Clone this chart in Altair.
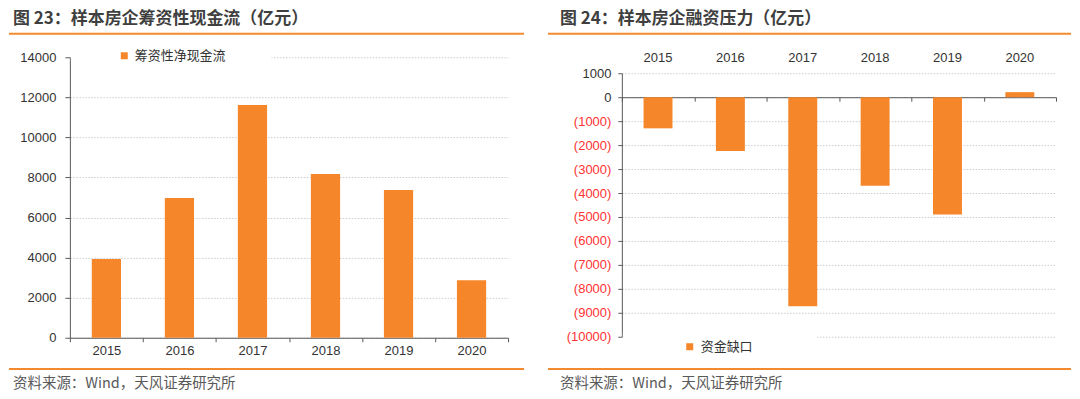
import altair as alt
import pandas as pd

# ---------------- data ----------------
years = ["2015", "2016", "2017", "2018", "2019", "2020"]
financing_cf = [3930, 6970, 11620, 8170, 7370, 2870]      # 筹资性净现金流
funding_gap = [-1300, -2250, -8730, -3700, -4900, 210]    # 资金缺口

left_ticks = [0, 2000, 4000, 6000, 8000, 10000, 12000, 14000]
right_ticks = [1000, 0, -1000, -2000, -3000, -4000, -5000, -6000, -7000, -8000, -9000, -10000]

title_left = "图 23：样本房企筹资性现金流（亿元）"
title_right = "图 24：样本房企融资压力（亿元）"
legend_left = "筹资性净现金流"
legend_right = "资金缺口"
source_text = "资料来源：Wind，天风证券研究所"

# ---------------- style ----------------
ORANGE = "#F5862A"
LINE = "#F28A30"
CJK = "Noto Sans CJK SC"
LAT = "Liberation Sans"
AX = "#595959"
LAB = "#333333"
GRID = "#cccccc"

W1, H1 = 439, 281
W2, H2 = 435, 280
TOP2 = 16  # right plot's value area starts 16px below the shared top

df1 = pd.DataFrame({"year": years, "v": financing_cf})
df2 = pd.DataFrame({"year": years, "v": funding_gap})


def one(**kw):
    return pd.DataFrame({k: [v] for k, v in kw.items()})


def text_layer(txt, x, y, size, color, weight="normal", font=CJK):
    return alt.Chart(one(t=txt)).mark_text(
        align="left", baseline="middle", fontSize=size, color=color,
        font=font, fontWeight=weight
    ).encode(x=alt.value(x), y=alt.value(y), text="t:N")


def hline(x1, x2, y):
    return alt.Chart(one(k=0)).mark_rule(color=LINE, strokeWidth=2).encode(
        x=alt.value(x1), x2=alt.value(x2), y=alt.value(y))


def white_box(x1, x2, y1, y2):
    return alt.Chart(one(k=0)).mark_rect(color="white").encode(
        x=alt.value(x1), x2=alt.value(x2), y=alt.value(y1), y2=alt.value(y2))


def anchor(x1, y1, x2, y2):
    return alt.Chart(one(k=0)).mark_rule(opacity=0, strokeWidth=1).encode(
        x=alt.value(x1), y=alt.value(y1), x2=alt.value(x2), y2=alt.value(y2))


def legend_sq(x, y):
    return alt.Chart(one(k=0)).mark_square(size=49, color=ORANGE, opacity=1).encode(
        x=alt.value(x), y=alt.value(y))


xscale = alt.Scale(paddingInner=0, paddingOuter=0)

# ---------------- left panel ----------------
bars1 = alt.Chart(df1).mark_bar(color=ORANGE, width={"band": 0.4}).encode(
    x=alt.X("year:N", sort=years, scale=xscale, axis=alt.Axis(
        title=None, labelAngle=0, tickBand="extent", tickSize=4,
        domainColor=AX, tickColor=AX, labelFont=LAT, labelFontSize=13,
        labelColor=LAB, labelPadding=3, grid=False)),
    y=alt.Y("v:Q", scale=alt.Scale(domain=[0, 14000], nice=False), axis=alt.Axis(
        title=None, values=left_ticks, format="d", tickSize=5, labelOverlap=False,
        domainColor=AX, tickColor=AX, labelFont=LAT, labelFontSize=13,
        labelColor=LAB, labelPadding=9, grid=True, gridColor=GRID,
        gridDash=[1.5, 1.5], gridWidth=1)),
)

left = alt.layer(
    anchor(-61, -49, 469, 338),
    bars1,
    white_box(1, 202, -7, 5),
    legend_sq(54.5, -1.5),
    text_layer(legend_left, 65, -1.5, 13, LAB),
    text_layer(title_left, -57, -38.5, 17, "#3f3f3f", weight="bold"),
    hline(-61, 455, -23.5),
    hline(-61, 455, 312.3),
    text_layer(source_text, -57, 327, 14.5, "#595959"),
).properties(width=W1, height=H1)

# ---------------- right panel ----------------
zero_y = TOP2 + (H2 - TOP2) * 1000 / 11000
zero_offset = -(H2 - zero_y)

ylab_expr = ("datum.value < 0 ? '(' + format(-datum.value, 'd') + ')' : "
             "format(datum.value, 'd') + '\u00a0'")

yscale2 = alt.Scale(domain=[-10000, 1000], nice=False, range=[H2, TOP2])


def yaxis2():
    return alt.Axis(
        title=None, values=right_ticks, labelExpr=ylab_expr, labelOverlap=False,
        labelColor={"expr": "datum.value < 0 ? '#FF3333' : '#333333'"},
        tickSize=4, domainColor=AX, tickColor=AX, labelFont=LAT,
        labelFontSize=13, labelPadding=7, grid=True, gridColor=GRID,
        gridDash=[1.5, 1.5], gridWidth=1)


bars2 = alt.Chart(df2).mark_bar(color=ORANGE, width={"band": 0.4}).encode(
    x=alt.X("year:N", sort=years, scale=xscale, axis=alt.Axis(
        title=None, orient="top", offset=-TOP2, labelAngle=0, ticks=False,
        tickSize=0, domain=False, labelFont=LAT, labelFontSize=13,
        labelColor=LAB, labelPadding=9, grid=False)),
    y=alt.Y("v:Q", scale=yscale2, axis=yaxis2()),
)

zero_axis = alt.Chart(df2).mark_bar(opacity=0, width={"band": 0.4}).encode(
    x=alt.X("year:N", sort=years, scale=xscale, axis=alt.Axis(
        title=None, orient="bottom", offset=zero_offset, labels=False,
        tickBand="extent", tickSize=4, domainColor=AX, tickColor=AX,
        grid=False)),
    y=alt.Y("v:Q", scale=yscale2, axis=yaxis2()),
)

right = alt.layer(
    anchor(-84, -49, 450, 338),
    bars2,
    zero_axis,
    white_box(1, 196, 276, 285),
    legend_sq(68, 290),
    text_layer(legend_right, 79, 290, 13, LAB),
    text_layer(title_right, -62, -38.5, 17, "#3f3f3f", weight="bold"),
    hline(-74, 450, -23.5),
    hline(-74, 450, 312.3),
    text_layer(source_text, -62, 327, 14.5, "#595959"),
).resolve_axis(x="independent").properties(width=W2, height=H2)

chart = alt.hconcat(left, right, spacing=0).properties(padding=0).configure_view(
    stroke=None).configure_concat(spacing=0)

chart.save("out.html", embed_options={"renderer": "svg", "actions": False})
